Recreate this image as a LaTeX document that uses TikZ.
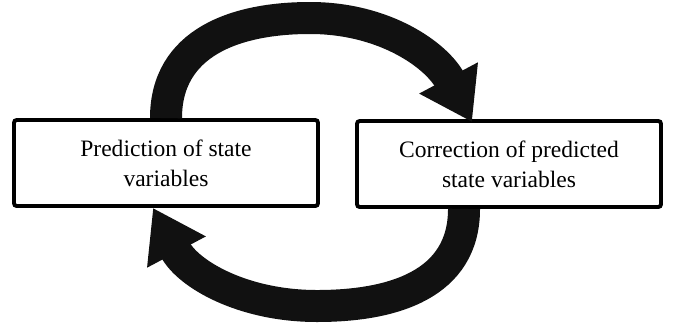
\documentclass[tikz,border=0pt]{standalone}
\usepackage{fontspec}
\setmainfont{Liberation Serif}
\usetikzlibrary{positioning,arrows.meta}
\definecolor{ink}{HTML}{111111}
\tikzset{
  stbox/.style={draw=black,fill=white,line width=2.2pt,rounded corners=1.5pt,align=center,
    minimum width=6.08cm,minimum height=1.72cm,inner sep=2pt,font=\fontsize{13.4}{17}\selectfont},
  bigarrow/.style={draw=ink,line width=0.64cm,-{Triangle[length=1cm,width=1.26cm]}},
}
\begin{document}
\begin{tikzpicture}[x=0.02cm,y=0.02cm]
  \useasboundingbox (0,0) rectangle (678,329);
  % the two steps
  \node[stbox] (pred) at (166,166) {Prediction of state\\variables};
  \node[stbox] (corr) at (509,165) {Correction of predicted\\state variables};
  % cycle arrows
  \coordinate (toppeak) at (310,311);
  \coordinate (botpeak) at (317,23);
  \draw[bigarrow] (pred.north) to[out=90,in=180,looseness=1.1] (toppeak) to[out=0,in=118] ([xshift=-0.74cm,yshift=-0.06cm]corr.north);
  \draw[bigarrow] ([xshift=-0.9cm]corr.south) to[out=-90,in=0,looseness=1.1] (botpeak) to[out=180,in=-62] ([xshift=-0.26cm]pred.south);
\end{tikzpicture}
\end{document}
